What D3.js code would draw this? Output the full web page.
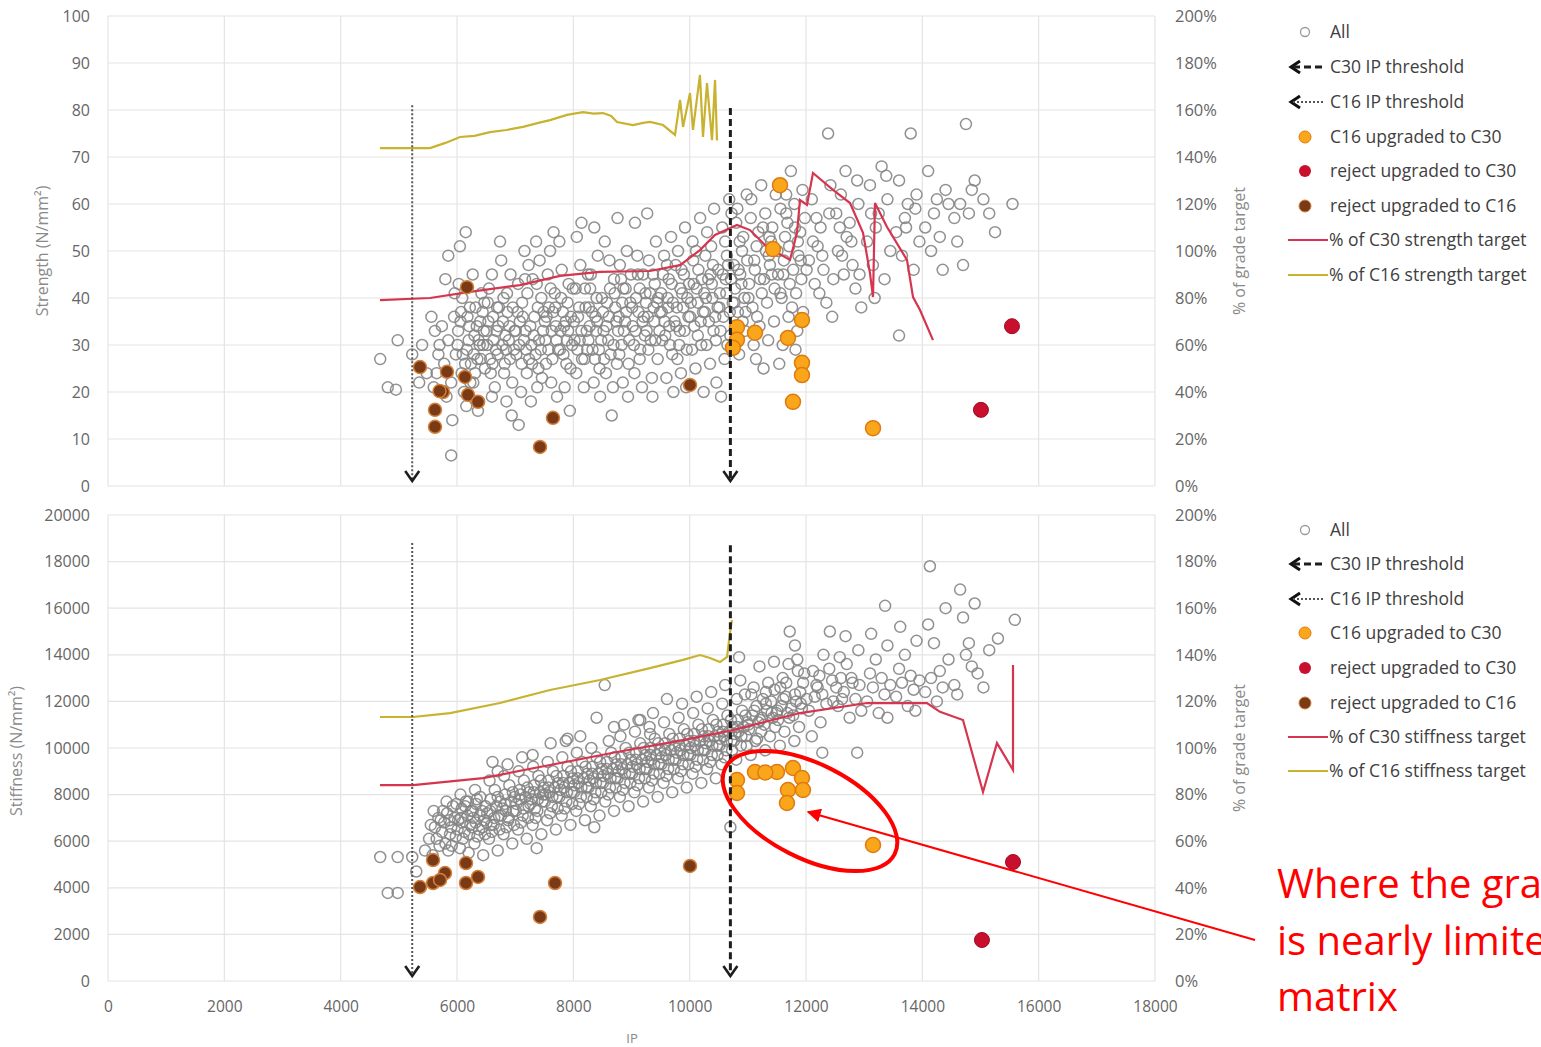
<!DOCTYPE html>
<html><head><meta charset="utf-8">
<script src="https://cdn.jsdelivr.net/npm/d3@7"></script>
<style>
body{margin:0;background:#fff;overflow:hidden}
text{font-family:"Open Sans",sans-serif}
</style>
</head><body>
<svg id="c" width="1541" height="1047"></svg>
<script>
// ---------- DATA ----------
const ipTicks = [0,2000,4000,6000,8000,10000,12000,14000,16000,18000];
const strengthTicks = [0,10,20,30,40,50,60,70,80,90,100];
const stiffnessTicks = [0,2000,4000,6000,8000,10000,12000,14000,16000,18000,20000];
const pctTicks = [0,0.2,0.4,0.6,0.8,1.0,1.2,1.4,1.6,1.8,2.0];

const legendStrength = ["All","C30 IP threshold","C16 IP threshold","C16 upgraded to C30","reject upgraded to C30","reject upgraded to C16","% of C30 strength target","% of C16 strength target"];
const legendStiffness = ["All","C30 IP threshold","C16 IP threshold","C16 upgraded to C30","reject upgraded to C30","reject upgraded to C16","% of C30 stiffness target","% of C16 stiffness target"];

const thresholdIP = {c30:10700, c16:5230};
const thresholdTopStrength = {c30:80.4, c16:81};
const thresholdTopStiffness = {c30:18700, c16:18800};

// All boards: [IP, strength]
const allStrength = [
[4680,27],[4810,21],[4950,20.5],[4980,31],[5230,28],[5350,22],[5480,24],[5400,30],
[5560,36],[5620,33],[5700,30],[5650,24],[5720,20],[5600,21],[5680,28],[5740,34],
[5800,44],[5850,49],[5900,6.5],[5920,14],[5850,31],[5950,36],[5780,26],[5900,22],[5980,28],[5820,19],[5960,41],
[6050,51],[6150,54],[6020,33],[6100,28],[6200,31],[6080,24],[6180,36],[6120,20],[6220,38],[6030,43],[6240,26],[6160,17],
[6300,32],[6350,27],[6400,35],[6280,22],[6450,30],[6320,38],[6480,25],[6380,18],[6420,41],[6270,45],[6460,33],[6360,16],
[6520,30],[6580,24],[6620,36],[6700,28],[6550,42],[6680,33],[6600,19],[6720,38],[6650,21],[6540,35],[6740,52],[6600,45],
[6780,30],[6820,26],[6900,34],[6950,22],[6800,40],[6870,37],[6980,29],[6850,18],[6920,45],[6760,48],[6940,15],[6830,32],
[7020,28],[7080,35],[7150,31],[7200,24],[7050,43],[7120,39],[7230,47],[7100,20],[7180,33],[7240,27],[7060,13],[7160,50],
[7280,30],[7330,36],[7400,25],[7450,40],[7300,44],[7380,21],[7480,33],[7350,28],[7420,48],[7270,18],[7460,23],[7360,52],
[7520,31],[7580,38],[7640,27],[7700,34],[7560,45],[7620,22],[7680,41],[7740,29],[7600,50],[7540,36],[7720,19],[7660,54],
[7780,33],[7830,28],[7900,39],[7950,25],[7800,46],[7870,35],[7980,30],[7850,21],[7920,43],[7760,52],[7940,16],[7820,37],
[8020,31],[8080,36],[8150,27],[8200,42],[8050,24],[8120,47],[8230,33],[8100,38],[8180,21],[8060,53],[8240,29],[8140,56],
[8280,34],[8330,29],[8400,40],[8450,25],[8300,45],[8380,36],[8480,31],[8350,22],[8420,49],[8270,38],[8460,19],[8360,55],
[8520,33],[8580,39],[8640,28],[8700,44],[8560,24],[8620,48],[8740,35],[8600,31],[8680,21],[8540,52],[8720,38],[8660,15],
[8780,36],[8830,30],[8900,42],[8950,26],[8800,47],[8870,33],[8980,39],[8850,22],[8920,50],[8760,57],[8940,19],[8820,44],
[9020,34],[9080,40],[9150,29],[9200,45],[9050,24],[9120,37],[9230,32],[9100,49],[9180,21],[9060,56],[9240,41],[9140,27],
[9280,36],[9330,31],[9400,43],[9450,27],[9300,48],[9380,38],[9480,33],[9350,23],[9420,52],[9270,58],[9460,40],[9360,19],
[9520,37],[9580,32],[9640,44],[9700,28],[9560,49],[9620,40],[9740,35],[9600,23],[9680,53],[9540,45],[9720,20],[9660,30],
[9780,38],[9830,33],[9900,45],[9950,29],[9800,50],[9870,41],[9980,36],[9850,24],[9920,55],[9760,47],[9940,21],[9820,30],
[10020,39],[10080,34],[10150,46],[10200,30],[10050,52],[10120,42],[10230,37],[10100,25],[10180,57],[10060,48],[10240,20],[10140,32],
[10280,40],[10330,35],[10400,47],[10450,31],[10300,54],[10380,43],[10480,38],[10350,26],[10420,59],[10270,49],[10460,22],[10360,45],
[10520,41],[10580,36],[10640,49],[10700,32],[10560,55],[10620,44],[10740,39],[10600,27],[10680,61],[10540,19],[10720,58],[10660,47],
[10780,42],[10830,37],[10900,50],[10950,33],[10800,56],[10870,45],[10980,62],[10850,28],[10920,53],[10760,47],[10940,40],[10820,59],
[11020,43],[11080,38],[11150,51],[11200,34],[11050,57],[11120,46],[11230,64],[11100,30],[11180,54],[11060,61],[11240,41],[11140,27],
[11280,44],[11330,39],[11400,52],[11450,35],[11300,58],[11380,47],[11480,62],[11350,31],[11420,55],[11270,25],[11460,42],[11360,49],
[11520,45],[11580,40],[11640,53],[11700,36],[11560,59],[11620,48],[11740,67],[11600,30],[11680,56],[11540,26],[11720,43],[11660,62],
[11780,46],[11830,41],[11900,54],[11950,37],[11800,60],[11870,49],[11980,57],[11850,33],[11920,44],[11760,38],[11940,63],[11820,29],
[12050,48],[12150,43],[12250,55],[12350,39],[12100,61],[12200,51],[12400,58],[12300,46],[12450,36],[12380,75],[12120,52],[12420,64],
[12550,50],[12650,45],[12750,56],[12850,42],[12600,62],[12700,53],[12900,60],[12800,47],[12950,38],[12680,67],[12580,55],[12880,65],
[13050,52],[13150,47],[13250,58],[13350,44],[13100,64],[13200,55],[13400,61],[13300,68],[13450,50],[13180,40],[13120,58],[13380,66],
[13550,54],[13650,49],[13750,60],[13850,46],[13600,65],[13700,57],[13900,62],[13800,75],[13950,52],[13600,32],[13720,55],[13880,59],
[14050,55],[14150,50],[14250,61],[14350,46],[14100,67],[14200,58],[14400,63],[14300,53],[14450,60],
[14550,57],[14650,60],[14750,77],[14850,63],[14600,52],[14700,47],[14900,65],[14800,58],
[15050,61],[15250,54],[15550,60],[15150,58],
[6010,30],[6070,37],[6140,26],[6210,34],[6090,40],[6170,29],[6230,22],[6060,35],
[6290,28],[6340,34],[6390,30],[6440,37],[6310,24],[6410,27],[6470,39],[6370,31],
[6510,33],[6570,27],[6630,31],[6690,38],[6530,39],[6610,26],[6710,34],[6670,29],
[6790,35],[6840,29],[6890,31],[6960,38],[6810,24],[6910,27],[6990,33],[6860,41],
[7010,33],[7070,30],[7130,36],[7190,29],[7040,37],[7110,26],[7210,41],[7170,44],
[7260,34],[7320,32],[7390,38],[7440,29],[7290,26],[7370,43],[7490,37],[7410,31],
[7510,35],[7570,29],[7630,33],[7690,38],[7530,26],[7610,42],[7710,31],[7650,37],
[7770,29],[7840,34],[7890,31],[7960,36],[7790,40],[7880,26],[7990,42],[7910,33],
[8010,35],[8070,29],[8140,33],[8210,38],[8040,42],[8110,31],[8190,27],[8250,45],
[8260,31],[8320,37],[8390,33],[8440,29],[8290,42],[8370,27],[8490,40],[8410,35],
[8510,37],[8570,34],[8630,42],[8690,30],[8530,27],[8610,36],[8710,41],[8750,26],
[8770,33],[8840,39],[8890,35],[8960,31],[8790,28],[8860,42],[8990,45],[8910,37],
[9010,38],[9070,33],[9140,42],[9210,36],[9040,30],[9110,45],[9190,35],[9250,39],
[9260,33],[9320,41],[9390,35],[9440,39],[9290,29],[9370,45],[9490,37],[9410,31],
[9510,41],[9570,35],[9630,38],[9690,43],[9530,31],[9610,47],[9710,39],[9650,34],
[9770,34],[9840,42],[9890,38],[9960,40],[9790,27],[9860,46],[9990,43],[9910,33],
[10010,36],[10070,43],[10140,39],[10210,44],[10040,29],[10110,50],[10190,35],[10250,41],
[10260,37],[10320,44],[10390,40],[10440,36],[10290,30],[10370,51],[10490,46],[10410,33],
[10510,38],[10570,45],[10630,41],[10690,37],[10530,33],[10610,52],[10710,44],[10650,30],
[10770,39],[10840,46],[10890,43],[10960,37],[10790,33],[10860,52],[10990,48],[10910,35],
[11010,40],[11110,48],[11210,44],[11310,50],[11410,45],[11160,36],[11260,55],[11370,53],
[11510,50],[11610,45],[11710,51],[11810,55],[11910,48],[11560,41],[11660,58],[11860,52],
[12010,46],[12180,57],[12280,49],[12470,44],[12230,41],
[12520,58],[12620,49],[12780,52],[12920,45]
];
const upC30Strength = [[11553,64],[11432,50.4],[10813,33.8],[10813,31.1],[10744,29.4],[11123,32.6],[11690,31.5],[11931,35.3],[11931,26.2],[11931,23.6],[11776,17.9],[13152,12.3]];
const rejC30Strength = [[15541,34],[15008,16.2]];
const rejC16Strength = [[5364,25.3],[5828,24.3],[6137,23.2],[5759,20],[5700,20.2],[6189,19.4],[6361,17.9],[5622,16.2],[5622,12.6],[7650,14.5],[7427,8.3],[10006,21.5],[6172,42.3]];

// All boards: [IP, stiffness]
const allStiffness = [
[4680,5320],[4810,3780],[4980,3780],[4980,5320],[5230,5320],[5300,4700],[5450,5600],
[5550,6700],[5600,7300],[5650,6100],[5700,5800],[5720,6900],[5580,5400],[5680,7000],[5740,6400],
[5780,6800],[5830,7200],[5880,6300],[5930,7500],[5800,5900],[5900,6600],[5960,7000],[5850,5600],[5980,6200],[5820,7700],
[6020,6900],[6080,7400],[6130,6400],[6180,7100],[6050,5700],[6150,7700],[6230,6700],[6100,6100],[6200,5500],[6060,8000],[6240,7300],
[6280,7000],[6330,7600],[6380,6500],[6430,7300],[6300,5900],[6400,7900],[6470,6900],[6350,6200],[6450,5400],[6310,8200],[6490,7500],[6260,6600],
[6520,7200],[6580,7800],[6630,6700],[6680,7500],[6550,6100],[6650,8200],[6720,7100],[6600,6400],[6700,5600],[6560,8600],[6740,7700],[6610,9400],
[6780,7400],[6830,8000],[6880,6900],[6930,7700],[6800,6300],[6900,8400],[6970,7300],[6850,6600],[6950,5900],[6810,8800],[6990,7900],[6870,9300],
[7020,7600],[7080,8200],[7130,7100],[7180,7900],[7050,6500],[7150,8600],[7230,7500],[7100,6800],[7200,6100],[7060,9000],[7240,8100],[7120,9600],
[7280,7800],[7330,8400],[7380,7300],[7430,8100],[7300,6700],[7400,8800],[7470,7700],[7350,7000],[7450,6300],[7310,9200],[7490,8300],[7370,5700],
[7520,8000],[7580,8600],[7630,7500],[7680,8300],[7550,6900],[7650,9000],[7720,7900],[7600,7200],[7700,6500],[7560,9400],[7740,8500],[7610,10200],
[7780,8200],[7830,8800],[7880,7700],[7930,8500],[7800,7100],[7900,9200],[7970,8100],[7850,7400],[7950,6700],[7810,9600],[7990,8700],[7870,10300],
[8020,8400],[8080,9000],[8130,7900],[8180,8700],[8050,7300],[8150,9400],[8230,8300],[8100,7600],[8200,6900],[8060,9800],[8240,8900],[8120,10500],
[8280,8600],[8330,9200],[8380,8100],[8430,8900],[8300,7500],[8400,9600],[8470,8500],[8350,7800],[8450,7100],[8310,10000],[8490,9100],[8360,6600],
[8520,8800],[8580,9400],[8630,8300],[8680,9100],[8550,7700],[8650,9800],[8720,8700],[8600,8000],[8700,7300],[8540,12700],[8740,9300],[8610,10300],
[8780,9000],[8830,9600],[8880,8500],[8930,9300],[8800,7900],[8900,10000],[8970,8900],[8850,8200],[8950,7500],[8810,10500],[8990,9500],[8870,11000],
[9020,9200],[9080,9800],[9130,8700],[9180,9500],[9050,8100],[9150,10200],[9230,9100],[9100,8400],[9200,7700],[9060,10700],[9240,9700],[9120,11200],
[9280,9400],[9330,10000],[9380,8900],[9430,9700],[9300,8300],[9400,10400],[9470,9300],[9350,8600],[9450,7900],[9310,10900],[9490,9900],[9370,11500],
[9520,9600],[9580,10200],[9630,9100],[9680,9900],[9550,8500],[9650,10600],[9720,9500],[9600,8800],[9700,8100],[9560,11100],[9740,10100],[9610,12100],
[9780,9800],[9830,10400],[9880,9300],[9930,10100],[9800,8700],[9900,10800],[9970,9700],[9850,9000],[9950,8300],[9810,11300],[9990,10300],[9870,11900],
[10020,10000],[10080,10600],[10130,9500],[10180,10300],[10050,8900],[10150,11000],[10230,9900],[10100,9200],[10200,8500],[10060,11500],[10240,10500],[10120,12200],
[10280,10200],[10330,10800],[10380,9700],[10430,10500],[10300,9100],[10400,11200],[10470,10100],[10350,9400],[10450,8700],[10310,11700],[10490,10700],[10370,12400],
[10520,10400],[10580,11000],[10630,9900],[10680,10700],[10550,9300],[10650,11400],[10720,10300],[10600,9600],[10700,6600],[10560,11900],[10740,10900],[10610,12700],
[10780,10600],[10830,11200],[10880,10100],[10930,10900],[10800,9500],[10900,11600],[10970,10500],[10850,13900],[10950,12300],[10810,12100],[10990,11100],[10870,12900],
[11020,10800],[11080,11400],[11130,10300],[11180,11100],[11050,9700],[11150,11800],[11230,10700],[11100,12600],[11200,13500],[11060,12300],[11240,11300],
[11280,11000],[11330,11600],[11380,10500],[11430,11300],[11300,9900],[11400,12000],[11470,10900],[11350,12800],[11450,13700],[11310,12400],[11490,11500],
[11520,11200],[11580,11800],[11630,10700],[11680,11500],[11550,10100],[11650,12200],[11720,15000],[11600,13000],[11700,13600],[11560,12600],[11740,11700],
[11780,11400],[11830,12000],[11880,10900],[11930,11700],[11800,10300],[11900,12400],[11970,13200],[11850,13800],[11950,12800],[11810,14400],
[12050,11600],[12150,12200],[12250,11100],[12350,11900],[12100,10500],[12200,12600],[12400,13400],[12300,14000],[12450,12900],[12410,15000],[12120,13300],[12280,9800],
[12550,11800],[12650,12400],[12750,11300],[12850,12100],[12600,13000],[12700,13600],[12900,14200],[12800,12800],[12950,11600],[12680,14800],[12580,13900],[12880,9800],
[13050,12000],[13150,12600],[13250,11500],[13350,12300],[13100,13200],[13200,13800],[13400,14400],[13300,13000],[13450,12700],[13360,16100],[13120,14900],[13400,11300],
[13550,12200],[13650,12800],[13750,11800],[13850,12500],[13600,13400],[13700,14000],[13900,14600],[13800,13100],[13950,12900],[13620,15200],[13880,11600],
[14050,12400],[14150,13000],[14250,12000],[14350,12600],[14130,17800],[14200,14500],[14400,16000],[14300,13300],[14450,13800],[14100,15300],
[14550,12700],[14650,16800],[14750,14000],[14850,13500],[14600,12300],[14700,15600],[14900,16200],[14800,14500],[14950,13200],
[15050,12600],[15150,14200],[15300,14700],[15590,15500],
[5520,6100],[5620,6600],[5760,7300],[5870,6900],[5910,5800],[5990,7600],
[6010,6500],[6070,7000],[6140,7500],[6210,6300],[6090,6800],[6190,7700],
[6270,7300],[6320,6800],[6390,7100],[6440,6600],[6340,7800],[6480,6300],
[6510,6800],[6570,7300],[6640,7000],[6700,7900],[6590,6700],[6730,6500],
[6760,7100],[6820,7600],[6890,7000],[6960,8100],[6840,7300],[6980,6700],
[7010,7300],[7070,7800],[7140,7400],[7210,8300],[7090,8000],[7220,7000],
[7260,7600],[7320,8100],[7390,7800],[7440,8600],[7340,7400],[7480,8000],
[7510,7700],[7570,8300],[7640,7900],[7710,8800],[7590,8100],[7730,7400],
[7760,7900],[7820,8500],[7890,8100],[7960,9000],[7840,8300],[7980,7600],
[8010,8100],[8070,8700],[8140,8300],[8210,9200],[8090,8500],[8230,7900],
[8260,8300],[8320,8900],[8390,8500],[8460,9400],[8340,8700],[8480,8100],
[8510,8500],[8570,9100],[8640,8700],[8710,9600],[8590,8900],[8730,8300],
[8760,8700],[8820,9300],[8890,8900],[8960,9800],[8840,9100],[8980,8500],
[9010,8900],[9070,9500],[9140,9100],[9210,10000],[9090,9300],[9230,8700],
[9260,9100],[9320,9700],[9390,9300],[9460,10200],[9340,9500],[9480,8900],
[9510,9300],[9570,9900],[9640,9500],[9710,10400],[9590,9700],[9730,9100],
[9760,9500],[9820,10100],[9890,9700],[9960,10600],[9840,9900],[9980,9300],
[10010,9700],[10070,10300],[10140,9900],[10210,10800],[10090,10100],[10230,9500],
[10260,9900],[10320,10500],[10390,10100],[10460,11000],[10340,10300],[10480,9700],
[10510,10100],[10570,10700],[10640,10300],[10710,11200],[10590,10500],[10730,9900],
[10760,10300],[10820,10900],[10890,10500],[10960,11400],[10840,10700],[10980,10100],
[11010,11000],[11110,11600],[11210,11200],[11310,11900],[11410,11500],[11160,10400],[11260,12100],[11460,12500],
[11510,11600],[11610,12100],[11710,11300],[11810,12300],[11910,11900],[11660,12800],[11860,13300],
[12010,12100],[12180,12700],[12280,12300],[12470,12000],[12230,13100],
[12520,12600],[12620,12100],[12780,13000],[12920,12700],
[9150,11200],[9320,10600],[8400,11300],[8700,10900],[7900,10400],[7300,9700],[6700,9000]
];
const upC30Stiffness = [[10813,8627],[10813,8069],[11123,8970],[11501,8970],[11776,9142],[11931,8712],[11690,8197],[11948,8197],[11673,7639],[11300,8950],[13152,5837]];
const rejC30Stiffness = [[15559,5107],[15025,1760]];
const rejC16Stiffness = [[5364,4034],[5588,4206],[5588,5193],[5794,4635],[6155,5064],[6155,4206],[6361,4464],[5708,4335],[7685,4206],[7427,2747],[10006,4936]];

// % of grade target lines: [IP, fraction]
const c16StrengthPct = [[4676,1.438],[5536,1.438],[5800,1.46],[6052,1.485],[6300,1.49],[6567,1.506],[6850,1.515],[7135,1.528],[7400,1.545],[7599,1.557],[7891,1.579],[8166,1.591],[8350,1.585],[8510,1.587],[8650,1.575],[8751,1.549],[9026,1.536],[9200,1.545],[9318,1.549],[9542,1.536],[9748,1.494],[9835,1.643],[9886,1.528],[10006,1.672],[10057,1.515],[10177,1.749],[10229,1.485],[10298,1.715],[10384,1.472],[10436,1.728],[10470,1.47]];
const c30StrengthPct = [[4676,0.791],[5536,0.800],[6224,0.826],[7083,0.855],[7771,0.894],[8458,0.911],[9318,0.915],[9835,0.940],[10177,1.004],[10435,1.068],[10814,1.111],[11037,1.089],[11330,1.017],[11725,0.962],[11845,1.077],[11897,1.217],[12017,1.196],[12120,1.332],[12464,1.260],[12757,1.204],[12980,1.077],[13100,0.906],[13152,0.804],[13186,1.204],[13393,1.102],[13736,0.962],[13840,0.804],[13960,0.749],[14183,0.621]];
const c16StiffPct = [[4676,1.133],[5244,1.133],[5880,1.150],[6739,1.193],[7599,1.249],[8458,1.292],[9318,1.343],[9886,1.378],[10177,1.399],[10350,1.386],[10521,1.369],[10642,1.391],[10693,1.494],[10727,1.549]];
const c30StiffPct = [[4676,0.841],[5244,0.841],[6447,0.871],[7599,0.927],[8751,0.983],[9886,1.034],[10745,1.077],[11897,1.150],[13049,1.193],[14080,1.193],[14303,1.155],[14699,1.120],[15043,0.811],[15283,1.021],[15559,0.906],[15559,1.356]];

const noteLines = ["Where the grade","is nearly limited by the","matrix"];

// ---------- DRAW ----------
const svg = d3.select("#c");
const x = d3.scaleLinear().domain([0,18000]).range([108,1155]);
const GRID = "#e4e4e4", TICK = "#666", FS = 16;

function panel(o){
  const y = d3.scaleLinear().domain(o.dom).range([o.bot,o.top]);
  const yr = d3.scaleLinear().domain([0,2]).range([o.bot,o.top]);
  const g = svg.append("g");
  g.selectAll(null).data(o.yTicks).join("line")
    .attr("x1",108).attr("x2",1155).attr("y1",d=>y(d)).attr("y2",d=>y(d))
    .attr("stroke",GRID).attr("stroke-width",1.2);
  g.selectAll(null).data(ipTicks).join("line")
    .attr("x1",d=>x(d)).attr("x2",d=>x(d)).attr("y1",o.top).attr("y2",o.bot)
    .attr("stroke",GRID).attr("stroke-width",1.2);
  const la = d3.axisLeft(y).tickValues(o.yTicks).tickSize(0).tickPadding(18).tickFormat(d3.format("d"));
  const lg = g.append("g").attr("transform","translate(108,0)").call(la);
  lg.select(".domain").remove();
  lg.selectAll("text").attr("fill",TICK).style("font-size",FS+"px").style("font-family","Open Sans");
  const ra = d3.axisRight(yr).tickValues(pctTicks).tickSize(0).tickPadding(20).tickFormat(d3.format(".0%"));
  const rg = g.append("g").attr("transform","translate(1155,0)").call(ra);
  rg.select(".domain").remove();
  rg.selectAll("text").attr("fill",TICK).style("font-size",(FS+0.5)+"px").style("font-family","Open Sans");
  if(o.showX){
    const xa = d3.axisBottom(x).tickValues(ipTicks).tickSize(0).tickPadding(20).tickFormat(d3.format("d"));
    const xg = g.append("g").attr("transform",`translate(0,${o.bot})`).call(xa);
    xg.select(".domain").remove();
    xg.selectAll("text").attr("fill",TICK).style("font-size",(FS-0.5)+"px").style("font-family","Open Sans");
    g.append("text").attr("x",632).attr("y",1043).attr("text-anchor","middle")
      .attr("fill","#888").style("font-size","13px").text("IP");
  }
  g.append("text").attr("transform",`translate(${o.ltx},${(o.top+o.bot)/2+o.lty}) rotate(-90)`)
    .attr("text-anchor","middle").attr("fill","#8a8a8a").style("font-size","16px").text(o.lt);
  g.append("text").attr("transform",`translate(1245,${(o.top+o.bot)/2}) rotate(-90)`)
    .attr("text-anchor","middle").attr("fill","#8a8a8a").style("font-size","16px").text("% of grade target");
  g.append("g").selectAll("circle").data(o.all).join("circle")
    .attr("cx",d=>x(d[0])).attr("cy",d=>y(d[1])).attr("r",5.5)
    .attr("fill","none").attr("stroke","#858585").attr("stroke-width",1.5).attr("stroke-opacity",0.9);
  const line = d3.line().x(d=>x(d[0])).y(d=>yr(d[1]));
  g.append("path").datum(o.c30).attr("d",line).attr("fill","none").attr("stroke","#d6354f").attr("stroke-width",2.2);
  g.append("path").datum(o.c16).attr("d",line).attr("fill","none").attr("stroke","#c9b230").attr("stroke-width",2.2);
  g.append("g").selectAll("circle").data(o.rej16).join("circle")
    .attr("cx",d=>x(d[0])).attr("cy",d=>y(d[1])).attr("r",6.5)
    .attr("fill","#7a3a16").attr("stroke","#d2803c").attr("stroke-width",1.5);
  g.append("g").selectAll("circle").data(o.up30).join("circle")
    .attr("cx",d=>x(d[0])).attr("cy",d=>y(d[1])).attr("r",7.5)
    .attr("fill","#f9a61a").attr("stroke","#e07a10").attr("stroke-width",1.5);
  g.append("g").selectAll("circle").data(o.rej30).join("circle")
    .attr("cx",d=>x(d[0])).attr("cy",d=>y(d[1])).attr("r",7.5)
    .attr("fill","#c8102e").attr("stroke","#a00a22").attr("stroke-width",1);
  const th = [
    {ip:thresholdIP.c16, t:o.thTop.c16, dash:"2,2", w:2, c:"#555"},
    {ip:thresholdIP.c30, t:o.thTop.c30, dash:"7,4", w:3, c:"#1e1e1e"}
  ];
  th.forEach(t=>{
    const xx = x(t.ip), yb = o.bot-5;
    g.append("line").attr("x1",xx).attr("x2",xx).attr("y1",y(t.t)).attr("y2",yb)
      .attr("stroke",t.c).attr("stroke-width",t.w).attr("stroke-dasharray",t.dash);
    g.append("path").attr("d",`M${xx-7},${yb-10}L${xx},${yb}L${xx+7},${yb-10}`)
      .attr("fill","none").attr("stroke","#1e1e1e").attr("stroke-width",2.6);
  });
  const L = g.append("g");
  const rows = o.legY;
  L.append("circle").attr("cx",1305).attr("cy",rows[0]).attr("r",4.5).attr("fill","none").attr("stroke","#999").attr("stroke-width",1.3);
  [[1,"7,4",3,"#1e1e1e"],[2,"2,2",2,"#555"]].forEach(([i,da,w,c])=>{
    L.append("path").attr("d",`M1300,${rows[i]-6}L1291,${rows[i]}L1300,${rows[i]+6}`).attr("fill","none").attr("stroke","#111").attr("stroke-width",3);
    L.append("line").attr("x1",1293).attr("x2",1325).attr("y1",rows[i]).attr("y2",rows[i]).attr("stroke",c).attr("stroke-width",w).attr("stroke-dasharray",da);
  });
  L.append("circle").attr("cx",1305).attr("cy",rows[3]).attr("r",6).attr("fill","#f9a61a").attr("stroke","#e07a10");
  L.append("circle").attr("cx",1305).attr("cy",rows[4]).attr("r",6).attr("fill","#c8102e");
  L.append("circle").attr("cx",1305).attr("cy",rows[5]).attr("r",6).attr("fill","#7a3a16").attr("stroke","#d2803c");
  L.append("line").attr("x1",1288).attr("x2",1328).attr("y1",rows[6]).attr("y2",rows[6]).attr("stroke","#d6354f").attr("stroke-width",2.2);
  L.append("line").attr("x1",1288).attr("x2",1328).attr("y1",rows[7]).attr("y2",rows[7]).attr("stroke","#c9b230").attr("stroke-width",2.2);
  L.selectAll("text").data(o.legend).join("text")
    .attr("x",(d,i)=>i>=6?1329:1330).attr("y",(d,i)=>rows[i]+6)
    .attr("fill","#404040").style("font-size","17.5px").text(d=>d);
}

panel({dom:[0,100], top:16, bot:486, yTicks:strengthTicks, showX:false,
  lt:"Strength (N/mm²)", ltx:48, lty:0, all:allStrength, up30:upC30Strength, rej30:rejC30Strength, rej16:rejC16Strength,
  c30:c30StrengthPct, c16:c16StrengthPct, thTop:thresholdTopStrength,
  legY:[32,67,102,137,171,206,240,275], legend:legendStrength});
panel({dom:[0,20000], top:515, bot:981, yTicks:stiffnessTicks, showX:true,
  lt:"Stiffness (N/mm²)", ltx:22, lty:3, all:allStiffness, up30:upC30Stiffness, rej30:rejC30Stiffness, rej16:rejC16Stiffness,
  c30:c30StiffPct, c16:c16StiffPct, thTop:thresholdTopStiffness,
  legY:[530,564,599,633,668,703,737,771], legend:legendStiffness});

// annotation
const A = svg.append("g");
A.append("ellipse").attr("cx",810).attr("cy",811).attr("rx",95).attr("ry",47)
  .attr("transform","rotate(27,810,811)").attr("fill","none").attr("stroke","#ff0000").attr("stroke-width",4);
svg.append("defs").append("marker").attr("id","ah").attr("viewBox","0 0 10 10").attr("refX",9).attr("refY",5)
  .attr("markerWidth",7).attr("markerHeight",7).attr("orient","auto")
  .append("path").attr("d","M0,0L10,5L0,10z").attr("fill","#ff0000");
A.append("line").attr("x1",1255).attr("y1",940).attr("x2",808).attr("y2",812)
  .attr("stroke","#ff0000").attr("stroke-width",2).attr("marker-end","url(#ah)");
A.selectAll("text").data(noteLines).join("text")
  .attr("x",1277).attr("y",(d,i)=>898+i*56.5).attr("fill","#ff0000").style("font-size","40px").text(d=>d);
</script>
</body></html>
